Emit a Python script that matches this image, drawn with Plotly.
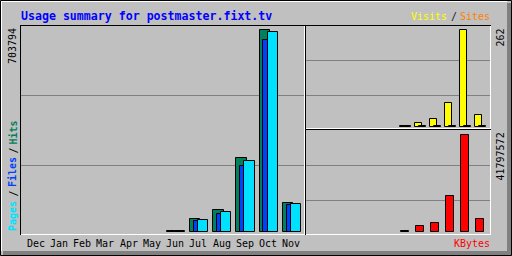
import plotly.graph_objects as go

# ---------------- data ----------------
months = ["Dec", "Jan", "Feb", "Mar", "Apr", "May", "Jun", "Jul", "Aug", "Sep", "Oct", "Nov"]
hits   = [None, None, None, None, None, None, 3000, 44000, 76300, 255500, 703794, 100500]
files  = [None, None, None, None, None, None, 2500, 37100, 62400, 227800, 665600, 92600]
pages  = [None, None, None, None, None, None, 2800, 42000, 69300, 245100, 693400, 97100]
visits = [None, None, None, None, None, None, 2, 11, 21, 64, 262, 32]
sites  = [None, None, None, None, None, None, 2, 3, 3, 3, 3, 3]
kbytes = [None, None, None, None, None, None, 300000, 2690000, 3970000, 15500000, 41797572, 5540000]

title_text = "Usage summary for postmaster.fixt.tv"

# ---------------- styling ----------------
W, H = 512, 256
GREY = "#c0c0c0"
DKGREY = "#808080"
C_HITS, C_FILES, C_PAGES = "#00805c", "#0040ff", "#00e0ff"
C_VISITS, C_SITES, C_KB = "#ffff00", "#ff8000", "#ff0000"
MONO = "DejaVu Sans Mono"

def px(p):
    return p / W

def py(p):
    return 1 - p / H

xi = list(range(len(months)))
hmax = max(v for v in hits if v is not None)
vmax = max(v for v in visits + sites if v is not None)
kmax = max(v for v in kbytes if v is not None)

# left panel geometry (pixels)
L_SLOT, L_X0 = 23.25, 27.0
L_ZERO, L_TOP = 232.0, 29.5
# right panel geometry
R_SLOT, R_X0 = 15.0, 309.8
U_ZERO, U_TOP = 127.0, 29.5
K_ZERO, K_TOP = 232.0, 134.5

fig = go.Figure()
line = dict(color="black", width=1)

def lbar(vals, color, off, wid):
    return go.Bar(x=xi, y=vals, xaxis="x", yaxis="y",
                  offset=off / L_SLOT, width=wid / L_SLOT,
                  marker=dict(color=color, line=line), hoverinfo="skip")

fig.add_trace(lbar(hits, C_HITS, 0, 10.5))
fig.add_trace(lbar(files, C_FILES, 3.75, 10.5))
fig.add_trace(lbar(pages, C_PAGES, 8.05, 10.4))

fig.add_trace(go.Bar(x=xi, y=visits, xaxis="x2", yaxis="y2", offset=0, width=6.7 / R_SLOT,
                     marker=dict(color=C_VISITS, line=line), hoverinfo="skip"))
fig.add_trace(go.Bar(x=xi, y=sites, xaxis="x2", yaxis="y2", offset=4 / R_SLOT, width=6.7 / R_SLOT,
                     marker=dict(color=C_SITES, line=line), hoverinfo="skip"))
fig.add_trace(go.Bar(x=xi, y=kbytes, xaxis="x3", yaxis="y3", offset=1 / R_SLOT, width=8.4 / R_SLOT,
                     marker=dict(color=C_KB, line=line), hoverinfo="skip"))

ax_common = dict(showgrid=False, zeroline=False, showline=False, showticklabels=False,
                 ticks="", fixedrange=True)

def yrange(zero, top, vmax_, p_bot, p_top):
    s = vmax_ / (zero - top)
    return [(zero - p_bot) * s, (zero - p_top) * s]

fig.update_layout(
    width=W, height=H, margin=dict(l=0, r=0, t=0, b=0),
    paper_bgcolor=GREY, plot_bgcolor="rgba(0,0,0,0)",
    barmode="overlay", showlegend=False, bargap=0,
    xaxis=dict(domain=[px(20), px(305)],
               range=[(20 - L_X0) / L_SLOT, (305 - L_X0) / L_SLOT], **ax_common),
    yaxis=dict(domain=[py(235), py(25)], range=yrange(L_ZERO, L_TOP, hmax, 235, 25), **ax_common),
    xaxis2=dict(domain=[px(305), px(491)], anchor="y2",
                range=[(305 - R_X0) / R_SLOT, (491 - R_X0) / R_SLOT], **ax_common),
    yaxis2=dict(domain=[py(129), py(25)], anchor="x2",
                range=yrange(U_ZERO, U_TOP, vmax, 129, 25), **ax_common),
    xaxis3=dict(domain=[px(305), px(491)], anchor="y3",
                range=[(305 - R_X0) / R_SLOT, (491 - R_X0) / R_SLOT], **ax_common),
    yaxis3=dict(domain=[py(235), py(129)], anchor="x3",
                range=yrange(K_ZERO, K_TOP, kmax, 235, 129), **ax_common),
)

shapes = []

def hline(y, x0, x1, color, layer="above"):
    shapes.append(dict(type="line", xref="paper", yref="paper", x0=px(x0), x1=px(x1),
                       y0=py(y), y1=py(y), line=dict(color=color, width=1), layer=layer))

def vline(x, y0, y1, color, layer="above"):
    shapes.append(dict(type="line", xref="paper", yref="paper", x0=px(x), x1=px(x),
                       y0=py(y0), y1=py(y1), line=dict(color=color, width=1), layer=layer))

# outer border
shapes.append(dict(type="rect", xref="paper", yref="paper", x0=px(507), x1=px(511), y0=py(3), y1=py(255),
                   line=dict(width=0), fillcolor=DKGREY, layer="below"))
shapes.append(dict(type="rect", xref="paper", yref="paper", x0=px(3), x1=px(511), y0=py(251), y1=py(255),
                   line=dict(width=0), fillcolor=DKGREY, layer="below"))
hline(1.5, 1, 507, "white", "below")
vline(1.5, 1, 251, "white", "below")
shapes.append(dict(type="rect", xref="paper", yref="paper", x0=px(0.5), x1=px(511.5), y0=py(0.5), y1=py(255.5),
                   line=dict(color="black", width=1), layer="below"))

# gridlines
for y in (95.5, 165.5):
    hline(y, 21, 304, DKGREY, "below")
for y in (60.5, 95.5, 165.5, 200.5):
    hline(y, 306, 490, DKGREY, "below")

# panel bevels
hline(25.5, 20, 305, "black"); vline(20.5, 25, 235, "black")
hline(234.5, 21, 305, "white"); vline(304.5, 26, 235, "white")
hline(25.5, 305, 491, "black"); vline(305.5, 25, 129, "black")
hline(128.5, 306, 491, "white"); vline(490.5, 26, 129, "white")
hline(129.5, 305, 491, "black"); vline(305.5, 129, 235, "black")
hline(234.5, 306, 491, "white"); vline(490.5, 130, 235, "white")

fig.update_layout(shapes=shapes)

ann = []

def text(t, x, y, color, size=10, xa="center", ya="middle", angle=0, bold=False, xref="paper"):
    ann.append(dict(text=t, x=x, y=y, xref=xref, yref="paper", xanchor=xa, yanchor=ya,
                    showarrow=False, textangle=angle, borderpad=0,
                    font=dict(family=MONO, size=size, color=color,
                              weight="bold" if bold else "normal")))

text(title_text, px(19.5), py(15.5), "#0000ff", size=11.6, xa="left", bold=True)
text("Visits", px(448), py(16.5), C_VISITS, xa="right")
text("/", px(453.5), py(16.5), "#202020")
text("Sites", px(490.5), py(16.5), C_SITES, xa="right")
text("KBytes", px(490.5), py(243), C_KB, xa="right")

for i, m in enumerate(months):
    text(m, i + 8.5 / L_SLOT, py(243), "black", xref="x")

text(f"{hmax}", px(12.5), py(27.5), "black", xa="center", ya="top", angle=-90)
text(f"{vmax}", px(500), py(27.5), "black", xa="center", ya="top", angle=-90)
text(f"{kmax}", px(500), py(131.5), "black", xa="center", ya="top", angle=-90)

text("Pages", px(12.5), py(232.5), C_PAGES, ya="bottom", angle=-90, bold=True)
text("/", px(12.5), py(194), "black", angle=-90)
text("Files", px(12.5), py(188.5), C_FILES, ya="bottom", angle=-90, bold=True)
text("/", px(12.5), py(151), "black", angle=-90)
text("Hits", px(12.5), py(146), C_HITS, ya="bottom", angle=-90, bold=True)

fig.update_layout(annotations=ann)

fig.write_html("out.html")
